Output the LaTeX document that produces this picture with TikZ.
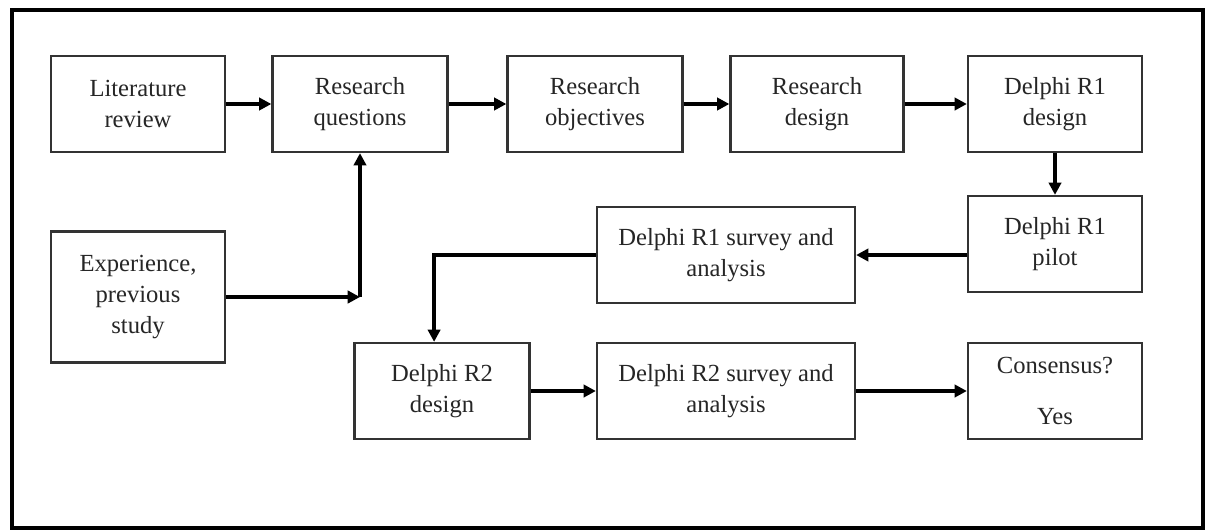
\documentclass[tikz,border=0pt]{standalone}
\usepackage{fontspec}
\setmainfont{Liberation Serif}
\usepackage{tikz}
\usetikzlibrary{positioning,arrows.meta,calc}
\usepackage{xcolor}

\begin{document}
\begin{tikzpicture}[
    x=0.02cm, y=-0.02cm,
    stepbox/.style={draw=black!80, line width=1.3pt, fill=white, minimum width=#1, minimum height=1.92cm, align=center, inner sep=2pt, text=black!85, font=\fontsize{14}{17.6}\selectfont},
    stepbox/.default={3.48cm},
    arr/.style={-{Triangle[length=7pt,width=7pt]}, line width=2.2pt, #1},
    arr/.default={black},
    outerframe/.style={draw=black, line width=2.6pt},
]
\useasboundingbox (0,0) rectangle (1206,531);
\draw[outerframe] (12,10) rectangle (1203,528);

\node[stepbox] (litrev) at (138, 104) {Literature\\review};
\node[stepbox=3.5cm] (resq) at (360, 104) {Research\\questions};
\node[stepbox=3.5cm] (resobj) at (595, 104) {Research\\objectives};
\node[stepbox=3.46cm] (resdes) at (817, 104) {Research\\design};
\node[stepbox] (rone) at (1055, 104) {Delphi R1\\design};
\node[stepbox] (ronepilot) at (1055, 244) {Delphi R1\\pilot};
\node[stepbox=5.16cm] (ronesurvey) at (726, 255) {Delphi R1 survey and\\analysis};
\node[stepbox, minimum height=2.62cm] (exper) at (138, 297) {Experience,\\previous\\study};
\node[stepbox=3.5cm] (rtwo) at (442, 391) {Delphi R2\\design};
\node[stepbox=5.16cm] (rtwosurvey) at (726, 391) {Delphi R2 survey and\\analysis};
\node[stepbox] (consensus) at (1055, 391) {Consensus?\\[0.42cm]Yes};

\coordinate (joinpt) at (resq.south |- exper.east);

% ===== ARROWS =====
\draw[arr] (litrev.east) -- (resq.west);
\draw[arr] (resq.east) -- (resobj.west);
\draw[arr] (resobj.east) -- (resdes.west);
\draw[arr] (resdes.east) -- (rone.west);
\draw[arr] (rone.south) -- (ronepilot.north);
\draw[arr] (ronepilot.west |- ronesurvey.east) -- (ronesurvey.east);
\draw[arr] (exper.east) -- (joinpt);
\draw[arr] (joinpt) -- (resq.south);
\draw[arr] (ronesurvey.west) -| ([xshift=-4.5pt]rtwo.north);
\draw[arr] (rtwo.east) -- (rtwosurvey.west);
\draw[arr] (rtwosurvey.east) -- (consensus.west);

\end{tikzpicture}
\end{document}
